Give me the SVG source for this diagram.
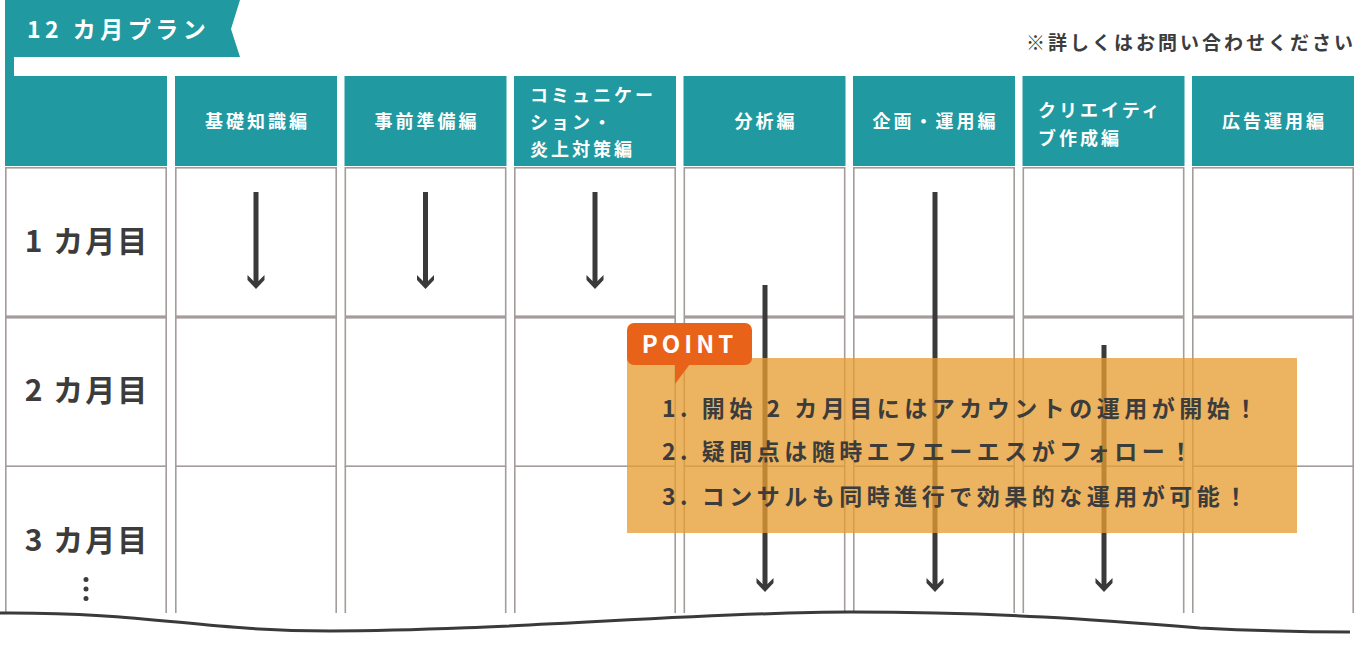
<svg xmlns="http://www.w3.org/2000/svg" width="1356" height="651" viewBox="0 0 1356 651">
<style>
.hd{fill:#2199a0}
.cell{fill:#fff;stroke:#a39c9a;stroke-width:1.6}
.vl{stroke:#a39c9a;stroke-width:1.6}
.ht{font-family:"Noto Sans CJK JP","Noto Sans",sans-serif;font-weight:700;font-size:18px;fill:#fff;letter-spacing:3px}
.rl{font-family:"Noto Sans CJK JP","Noto Sans",sans-serif;font-weight:700;font-size:30px;fill:#3c3c3c;letter-spacing:2px;text-anchor:middle}
.bt{font-family:"Noto Sans CJK JP","Noto Sans",sans-serif;font-weight:700;font-size:23px;fill:#3c3c3c;letter-spacing:4.5px}
.arr{stroke:#3a3a3a;stroke-width:5;fill:none}
.mid{text-anchor:middle}
</style>
<defs>
<marker id="ah" viewBox="-15 -9 16 18" refX="-3" refY="0" markerWidth="16" markerHeight="18" markerUnits="userSpaceOnUse" orient="auto">
<polygon points="0,0 -9,-8.5 -14,-8.5 -8,-2.5 -8,2.5 -14,8.5 -9,8.5" fill="#3a3a3a"/>
</marker>
</defs>
<g id="title">
<polygon class="hd" points="5,0 240,0 231,29 240,57 14,57 14,76 5,76"/>
<text x="27" y="38" class="ht" style="font-size:23px;letter-spacing:4.5px">12 カ月プラン</text>
</g>
<text id="note" x="1356" y="50" font-family="Noto Sans CJK JP, sans-serif" font-weight="700" font-size="19" fill="#3c3c3c" letter-spacing="3" text-anchor="end">※詳しくはお問い合わせください</text>
<g id="col0">
<rect class="hd" x="5" y="76" width="162" height="90"/>
<rect class="cell" x="5.8" y="167.8" width="160.4" height="148.4"/>
<rect class="cell" x="5.8" y="317.8" width="160.4" height="148.4"/>
<line class="vl" x1="5.8" y1="466" x2="5.8" y2="613"/><line class="vl" x1="166.2" y1="466" x2="166.2" y2="613"/>
<text class="rl" x="87" y="252">1 カ月目</text>
<text class="rl" x="87" y="401">2 カ月目</text>
<text class="rl" x="87" y="551">3 カ月目</text>
<circle cx="86" cy="579.5" r="2.5" fill="#3c3c3c"/><circle cx="86" cy="589" r="2.5" fill="#3c3c3c"/><circle cx="86" cy="598.5" r="2.5" fill="#3c3c3c"/>
</g>
<g id="col1">
<rect class="hd" x="175" y="76" width="162" height="90"/>
<rect class="cell" x="175.8" y="167.8" width="160.4" height="148.4"/>
<rect class="cell" x="175.8" y="317.8" width="160.4" height="148.4"/>
<line class="vl" x1="175.8" y1="466" x2="175.8" y2="613"/><line class="vl" x1="336.2" y1="466" x2="336.2" y2="613"/>
<text class="ht mid" x="257.5" y="128">基礎知識編</text>
</g>
<g id="col2">
<rect class="hd" x="344.5" y="76" width="162" height="90"/>
<rect class="cell" x="345.3" y="167.8" width="160.4" height="148.4"/>
<rect class="cell" x="345.3" y="317.8" width="160.4" height="148.4"/>
<line class="vl" x1="345.3" y1="466" x2="345.3" y2="613"/><line class="vl" x1="505.7" y1="466" x2="505.7" y2="613"/>
<text class="ht mid" x="427" y="128">事前準備編</text>
</g>
<g id="col3">
<rect class="hd" x="514" y="76" width="162" height="90"/>
<rect class="cell" x="514.8" y="167.8" width="160.4" height="148.4"/>
<rect class="cell" x="514.8" y="317.8" width="160.4" height="148.4"/>
<line class="vl" x1="514.8" y1="466" x2="514.8" y2="613"/><line class="vl" x1="675.2" y1="466" x2="675.2" y2="613"/>
<text class="ht" x="530" y="102">コミュニケー</text>
<text class="ht" x="530" y="129">ション・</text>
<text class="ht" x="530" y="156">炎上対策編</text>
</g>
<g id="col4">
<rect class="hd" x="683.5" y="76" width="162" height="90"/>
<rect class="cell" x="684.3" y="167.8" width="160.4" height="148.4"/>
<rect class="cell" x="684.3" y="317.8" width="160.4" height="148.4"/>
<line class="vl" x1="684.3" y1="466" x2="684.3" y2="613"/><line class="vl" x1="844.7" y1="466" x2="844.7" y2="613"/>
<text class="ht mid" x="766" y="128">分析編</text>
</g>
<g id="col5">
<rect class="hd" x="853" y="76" width="162" height="90"/>
<rect class="cell" x="853.8" y="167.8" width="160.4" height="148.4"/>
<rect class="cell" x="853.8" y="317.8" width="160.4" height="148.4"/>
<line class="vl" x1="853.8" y1="466" x2="853.8" y2="613"/><line class="vl" x1="1014.2" y1="466" x2="1014.2" y2="613"/>
<text class="ht mid" x="935.5" y="128">企画・運用編</text>
</g>
<g id="col6">
<rect class="hd" x="1022.5" y="76" width="162" height="90"/>
<rect class="cell" x="1023.3" y="167.8" width="160.4" height="148.4"/>
<rect class="cell" x="1023.3" y="317.8" width="160.4" height="148.4"/>
<line class="vl" x1="1023.3" y1="466" x2="1023.3" y2="613"/><line class="vl" x1="1183.7" y1="466" x2="1183.7" y2="613"/>
<text class="ht" x="1038" y="117">クリエイティ</text>
<text class="ht" x="1038" y="145">ブ作成編</text>
</g>
<g id="col7">
<rect class="hd" x="1192" y="76" width="162" height="90"/>
<rect class="cell" x="1192.8" y="167.8" width="160.4" height="148.4"/>
<rect class="cell" x="1192.8" y="317.8" width="160.4" height="148.4"/>
<line class="vl" x1="1192.8" y1="466" x2="1192.8" y2="613"/><line class="vl" x1="1353.2" y1="466" x2="1353.2" y2="613"/>
<text class="ht mid" x="1274.5" y="128">広告運用編</text>
</g>
<g id="connectors">
<line class="arr" x1="256" y1="192" x2="256" y2="286" marker-end="url(#ah)"/>
<line class="arr" x1="425.5" y1="192" x2="425.5" y2="286" marker-end="url(#ah)"/>
<line class="arr" x1="595" y1="192" x2="595" y2="286" marker-end="url(#ah)"/>
<line class="arr" x1="765" y1="285" x2="765" y2="589" marker-end="url(#ah)"/>
<line class="arr" x1="935" y1="192" x2="935" y2="589" marker-end="url(#ah)"/>
<line class="arr" x1="1104" y1="345" x2="1104" y2="589" marker-end="url(#ah)"/>
</g>
<path id="wave" d="M0 613 C 150 612, 200 631, 330 631 C 500 631, 700 612, 850 612 C 1000 612, 1100 620, 1200 628 C 1260 631, 1300 632, 1350 632" fill="none" stroke="#3a3a3a" stroke-width="3"/>
<g id="point">
<rect x="627" y="358" width="670" height="175" fill="#e69d32" fill-opacity="0.77"/>
<rect x="627" y="323" width="125" height="42" rx="7" fill="#e8621a"/>
<polygon points="675,364 690,364 675,384" fill="#e8621a"/>
<text x="689.5" y="353" class="mid" font-family="Noto Sans CJK JP, Noto Sans, sans-serif" font-weight="700" font-size="24" fill="#fff" letter-spacing="4">POINT</text>
<text class="bt" x="662" y="417">1. 開始 2 カ月目にはアカウントの運用が開始！</text>
<text class="bt" x="662" y="460">2. 疑問点は随時エフエーエスがフォロー！</text>
<text class="bt" x="662" y="505">3. コンサルも同時進行で効果的な運用が可能！</text>
</g>
</svg>
